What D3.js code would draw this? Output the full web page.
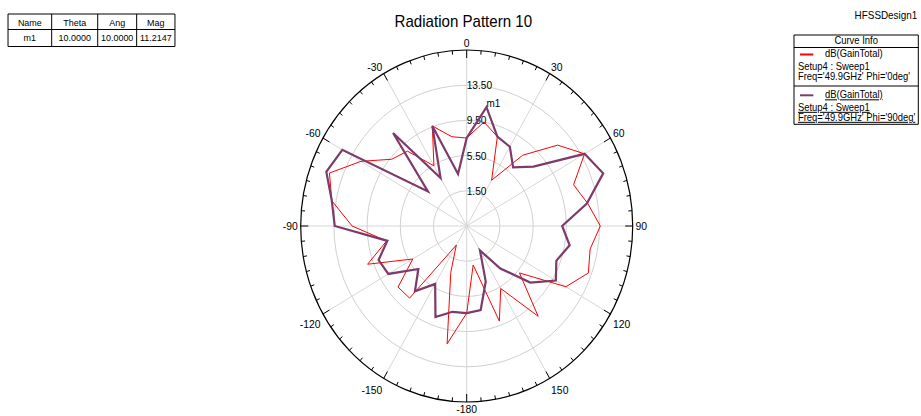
<!DOCTYPE html>
<html>
<head>
<meta charset="utf-8">
<script src="https://cdn.jsdelivr.net/npm/d3@7"></script>
<style>
  body { margin: 0; background: #fff; }
  text { font-family: "Liberation Sans", Arial, sans-serif; fill: #000; }
</style>
</head>
<body>
<svg id="chart" width="921" height="416"></svg>
<script>
// Theta sweep (deg) and gain values (dB) for both cuts
const thetaDeg = [-180, -170, -160, -150, -140, -130, -120, -110, -100, -90, -80, -70, -60, -50, -40, -30, -20, -10,
                  0, 10, 20, 30, 40, 50, 60, 70, 80, 90, 100, 110, 120, 130, 140, 150, 160, 170, 180];
const gainPhi0 = [7.4, 11.1, 3.1, 0.0, 8.2, 8.3, 5.0, 10.2, 7.3, 11.3, 14.0, 15.1, 12.2, 9.3, 8.6, 5.4, 9.6, 7.8,
                  7.5, 9.5, 8.3, 3.5, 8.0, 11.8, 13.9, 11.2, 12.3, 13.6, 12.6, 13.1, 11.3, 5.8, 10.9, 5.7, 9.0, 2.0, 7.4];
const gainPhi90 = [7.4, 7.4, 8.5, 5.1, 7.2, 5.1, 8.4, 8.8, 7.2, 13.4, 14.0, 15.5, 14.8, 3.6, 11.3, 3.8, 9.6, 3.5,
                   7.5, 11.2147, 8.3, 7.9, 6.2, 8.0, 13.9, 15.0, 12.2, 9.0, 10.1, 9.0, 9.9, 7.5, 3.8, 0.7, 4.2, 7.2, 7.4];

// Radial axis
const radialDomain = [-2.5, 17.5];
const ringValues = [1.5, 5.5, 9.5, 13.5];
const ringLabels = ["1.50", "5.50", "9.50", "13.50"];

// Angular axis
const spokeAngles = [0, 30, 60, 90, 120, 150, 180, 210, 240, 270, 300, 330];
const angleLabels = ["0", "30", "60", "90", "120", "150", "-180", "-150", "-120", "-90", "-60", "-30"];

// Marker
const markerName = "m1";
const markerTheta = 10;
const markerMag = 11.2147;
const markerTable = [["Name", "Theta", "Ang", "Mag"], ["m1", "10.0000", "10.0000", "11.2147"]];

// Legend
const curveNames = ["dB(GainTotal)", "dB(GainTotal)"];
const curveSetup = ["Setup4 : Sweep1", "Setup4 : Sweep1"];
const curveFreq = ["Freq='49.9GHz' Phi='0deg'", "Freq='49.9GHz' Phi='90deg'"];
const curveColors = ["#ff0000", "#7d3a6b"];

const sx = 0.9432;
const svg = d3.select("#chart");
const root = svg.append("g").attr("transform", `scale(${sx},1)`);

const cx = 494.8, cy = 226, R = 176;
const rScale = d3.scaleLinear().domain(radialDomain).range([0, R]);
const rad = d => d * Math.PI / 180;

const polar = root.append("g").attr("transform", `translate(${cx},${cy})`);

// grid rings
polar.selectAll("circle.ring").data(ringValues).join("circle")
  .attr("class", "ring").attr("r", d => rScale(d))
  .attr("fill", "none").attr("stroke", "#d0d0d0").attr("stroke-width", 1)
  .attr("vector-effect", "non-scaling-stroke");

// spokes
polar.selectAll("line.spoke").data(spokeAngles).join("line")
  .attr("class", "spoke")
  .attr("x1", 0).attr("y1", 0)
  .attr("x2", d => R * Math.sin(rad(d))).attr("y2", d => -R * Math.cos(rad(d)))
  .attr("stroke", "#d6d6d6").attr("stroke-width", 1)
  .attr("vector-effect", "non-scaling-stroke");

// outer circle
polar.append("circle").attr("r", R).attr("fill", "none")
  .attr("stroke", "#000").attr("stroke-width", 1.2)
  .attr("vector-effect", "non-scaling-stroke");

// ticks every 5 deg, longer every 30 deg
const tickAngles = d3.range(0, 360, 5);
polar.selectAll("line.tick").data(tickAngles).join("line")
  .attr("class", "tick")
  .attr("x1", d => R * Math.sin(rad(d))).attr("y1", d => -R * Math.cos(rad(d)))
  .attr("x2", d => (R - (d % 30 === 0 ? 8 : 4)) * Math.sin(rad(d)))
  .attr("y2", d => -(R - (d % 30 === 0 ? 8 : 4)) * Math.cos(rad(d)))
  .attr("stroke", "#000").attr("stroke-width", 1)
  .attr("vector-effect", "non-scaling-stroke");

// angle labels
polar.selectAll("text.alabel").data(spokeAngles).join("text")
  .attr("class", "alabel")
  .each(function (d, i) {
    const s = Math.sin(rad(d)), c = Math.cos(rad(d));
    const rr = R + 3;
    let x = rr * s, y = -rr * c;
    let anchor = "middle";
    if (s > 0.01) anchor = "start"; else if (s < -0.01) anchor = "end";
    if (c > 0.01) { /* above: baseline on point */ }
    else if (c < -0.01) { y += 8 + (Math.abs(s) > 0.01 ? 5 : 0); }
    else { y += 4; }
    d3.select(this).attr("x", x).attr("y", y).attr("text-anchor", anchor)
      .attr("font-size", 11).text(angleLabels[i]);
  });

// ring labels
polar.selectAll("text.rlabel").data(ringValues).join("text")
  .attr("class", "rlabel")
  .attr("x", 0).attr("y", d => -rScale(d) + 4)
  .attr("font-size", 10.8).text((d, i) => ringLabels[i]);

// curves
const radialLine = d3.lineRadial().angle(d => rad(d[0])).radius(d => rScale(d[1]));
[gainPhi0, gainPhi90].forEach((vals, k) => {
  polar.append("path")
    .datum(d3.zip(thetaDeg, vals))
    .attr("d", radialLine)
    .attr("fill", "none")
    .attr("stroke", curveColors[k])
    .attr("stroke-width", k === 0 ? 1 : 2.2)
    .attr("stroke-linejoin", "miter")
    .attr("vector-effect", "non-scaling-stroke");
});

// marker label
const mr = rScale(markerMag);
polar.append("text")
  .attr("x", mr * Math.sin(rad(markerTheta)))
  .attr("y", -mr * Math.cos(rad(markerTheta)) - 0.5)
  .attr("font-size", 10.5).text(markerName);

// title
root.append("text").attr("x", 491.2).attr("y", 27).attr("text-anchor", "middle")
  .attr("font-size", 16).text("Radiation Pattern 10");
root.append("text").attr("x", 972.5).attr("y", 19).attr("text-anchor", "end")
  .attr("font-size", 10.5).text("HFSSDesign1");

// marker table
const colX = [8.5, 54.8, 103.6, 144.9, 185.5];
const rowY = [14, 29.5, 46.5];
const tbl = root.append("g");
tbl.append("rect").attr("x", colX[0]).attr("y", rowY[0])
  .attr("width", colX[4] - colX[0]).attr("height", rowY[2] - rowY[0])
  .attr("fill", "#fff").attr("stroke", "#000").attr("vector-effect", "non-scaling-stroke");
tbl.append("line").attr("x1", colX[0]).attr("x2", colX[4]).attr("y1", rowY[1]).attr("y2", rowY[1])
  .attr("stroke", "#000").attr("vector-effect", "non-scaling-stroke");
[1, 2, 3].forEach(i => tbl.append("line").attr("x1", colX[i]).attr("x2", colX[i])
  .attr("y1", rowY[0]).attr("y2", rowY[2]).attr("stroke", "#000").attr("vector-effect", "non-scaling-stroke"));
markerTable.forEach((row, r) => row.forEach((cell, c) => {
  tbl.append("text").attr("x", (colX[c] + colX[c + 1]) / 2).attr("y", r === 0 ? 26 : 41.5)
    .attr("text-anchor", "middle").attr("font-size", 9.5).text(cell);
}));

// legend
const lg = root.append("g");
const lx0 = 841.8, lx1 = 973.6, ly0 = 35, ly1 = 124.3;
lg.append("rect").attr("x", lx0).attr("y", ly0).attr("width", lx1 - lx0).attr("height", ly1 - ly0)
  .attr("fill", "#fff").attr("stroke", "#000").attr("vector-effect", "non-scaling-stroke");
lg.append("text").attr("x", (lx0 + lx1) / 2).attr("y", 44.3).attr("text-anchor", "middle")
  .attr("font-size", 10).text("Curve Info");
[47.5, 86].forEach(y => lg.append("line").attr("x1", lx0).attr("x2", lx1).attr("y1", y).attr("y2", y)
  .attr("stroke", "#000").attr("vector-effect", "non-scaling-stroke"));
const entryTop = [54.5, 95.3];
curveColors.forEach((col, k) => {
  const y = entryTop[k];
  const ul = k === 1 ? "underline" : null;
  lg.append("line").attr("x1", 848.2).attr("x2", 862.3).attr("y1", y).attr("y2", y)
    .attr("stroke", col).attr("stroke-width", 2);
  lg.append("text").attr("x", 874.7).attr("y", y + 3).attr("font-size", 10)
    .attr("text-decoration", ul).text(curveNames[k]);
  lg.append("text").attr("x", 846).attr("y", y + 15.5).attr("font-size", 10)
    .attr("text-decoration", ul).text(curveSetup[k]);
  lg.append("text").attr("x", 846).attr("y", y + 25.5).attr("font-size", 10)
    .attr("text-decoration", ul).text(curveFreq[k]);
});
</script>
</body>
</html>
